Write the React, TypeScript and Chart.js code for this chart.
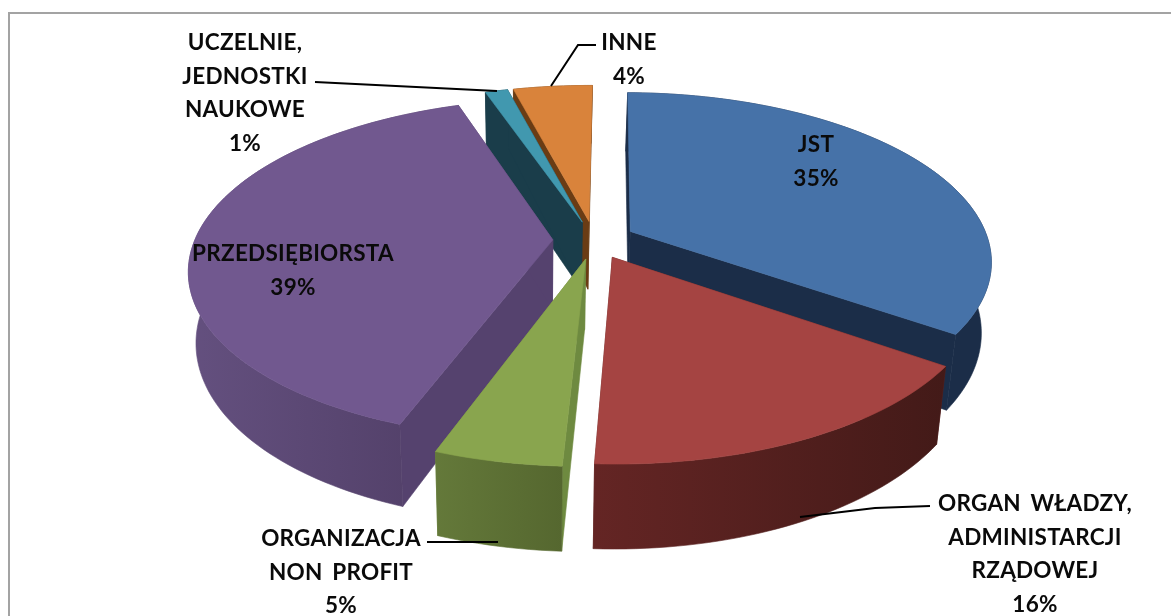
import React, { useEffect, useRef } from "react";
import { Chart, registerables } from "chart.js";

Chart.register(...registerables);

const categories = ["JST", "ORGAN WŁADZY,\nADMINISTARCJI\nRZĄDOWEJ", "ORGANIZACJA\nNON PROFIT", "PRZEDSIĘBIORSTA", "UCZELNIE,\nJEDNOSTKI\nNAUKOWE", "INNE"];
const shares = [34.6, 16.04, 4.75, 39.2, 1.2, 4.2];
const percentLabels = ["35%", "16%", "5%", "39%", "1%", "4%"];
const topColors = ["#4672a8", "#a54442", "#89a54e", "#71588f", "#4198af", "#d9833b"];
const wallColorsLeft = ["#1b2d48", "#642524", "#64793a", "#64507f", "#1a3d4a", "#6a3c14"];
const wallColorsRight = ["#1b2d48", "#431a18", "#55672f", "#503e66", "#1a3d4a", "#6a3c14"];
const edgeColors = ["#1b2d48", "#642524", "#6e8a40", "#55426e", "#1a3d4a", "#6a3c14"];

// Painter's order: back slices first
const paintOrder = [5, 4, 0, 3, 2, 1];

// View layout, in pixels and ratios
const VIEW = { cx: 594, cy: 240, rx: 358, ry: 165, persp: 0.17, depth: 69, explode: 0.115, taper: 0.022, vanishX: 536 };
const LABEL_LAYOUT: Record<number, { x: number; y: number }> = {
  0: { x: 816, y: 145 },
  1: { x: 1035, y: 504 },
  2: { x: 341, y: 539 },
  3: { x: 293, y: 254 },
  4: { x: 245, y: 43 },
  5: { x: 629, y: 43 },
};
const LINE_HEIGHT = 33.5;
const LEADERS: number[][][] = [
  [],
  [[930, 506], [875, 508], [800, 517]],
  [[427, 542], [498, 542]],
  [],
  [[315, 82], [497, 91]],
  [[596, 45], [578, 45], [551, 86]],
];

function project(nx: number, ny: number, z: number) {
  const s = 1 / (1 - VIEW.persp * ny);
  const x = VIEW.cx + nx * s * VIEW.rx;
  return {
    x: x - (x - VIEW.vanishX) * VIEW.taper * z,
    y: VIEW.cy + ny * s * VIEW.ry + z * VIEW.depth * s,
  };
}

const piePlugin = {
  id: "pie3d",
  beforeDatasetDraw(chart: any) {
    const { ctx } = chart;
    const arcs = chart.getDatasetMeta(0).data;
    const point = (a: any, angle: number, radius: number, z: number) => {
      const mid = (a.startAngle + a.endAngle) / 2;
      const ox = Math.cos(mid) * VIEW.explode + Math.cos(angle) * radius;
      const oy = Math.sin(mid) * VIEW.explode + Math.sin(angle) * radius;
      return project(ox, oy, z);
    };
    ctx.save();
    paintOrder.forEach((i) => {
      const a = arcs[i];
      const n = Math.max(8, Math.ceil((a.endAngle - a.startAngle) * 40));
      const rim: number[] = [];
      for (let k = 0; k <= n; k++) rim.push(a.startAngle + ((a.endAngle - a.startAngle) * k) / n);
      const poly = (pts: { x: number; y: number }[], fill: any) => {
        ctx.beginPath();
        pts.forEach((p, k) => (k ? ctx.lineTo(p.x, p.y) : ctx.moveTo(p.x, p.y)));
        ctx.closePath();
        ctx.fillStyle = fill;
        ctx.strokeStyle = fill;
        ctx.lineWidth = 0.6;
        ctx.fill();
        ctx.stroke();
      };
      const apexTop = point(a, a.startAngle, 0, 0);
      const apexBottom = point(a, a.startAngle, 0, 1);
      // radial walls
      [a.startAngle, a.endAngle].forEach((ang: number) => {
        poly([apexTop, point(a, ang, 1, 0), point(a, ang, 1, 1), apexBottom], edgeColors[i]);
      });
      // outer wall
      const tops = rim.map((ang) => point(a, ang, 1, 0));
      const bottoms = rim.map((ang) => point(a, ang, 1, 1));
      const xs = tops.map((p) => p.x);
      const grad = ctx.createLinearGradient(Math.min(...xs), 0, Math.max(...xs), 0);
      grad.addColorStop(0, wallColorsLeft[i]);
      grad.addColorStop(1, wallColorsRight[i]);
      poly([...tops, ...bottoms.slice().reverse()], grad);
      // top surface
      poly([apexTop, ...tops], chart.data.datasets[0].backgroundColor[i]);
    });
    ctx.restore();

    // leaders
    ctx.save();
    ctx.strokeStyle = "#000";
    ctx.lineWidth = 2;
    LEADERS.forEach((line) => {
      if (!line.length) return;
      ctx.beginPath();
      line.forEach(([x, y], k) => (k ? ctx.lineTo(x, y) : ctx.moveTo(x, y)));
      ctx.stroke();
    });
    // labels
    ctx.fillStyle = "#0a0a0a";
    ctx.font = 'bold 22.5px Lato, "Open Sans", sans-serif';
    ctx.letterSpacing = "0.25px";
    ctx.wordSpacing = "4px";
    ctx.textAlign = "center";
    ctx.textBaseline = "middle";
    categories.forEach((name, i) => {
      const lines = [...name.split("\n"), percentLabels[i]];
      lines.forEach((t, k) => ctx.fillText(t, LABEL_LAYOUT[i].x, LABEL_LAYOUT[i].y + k * LINE_HEIGHT));
    });
    ctx.restore();
    return false;
  },
};

export default function App() {
  const ref = useRef<HTMLCanvasElement>(null);
  useEffect(() => {
    document.body.style.margin = "0";
    const chart = new Chart(ref.current!, {
      type: "pie",
      data: {
        labels: categories,
        datasets: [{ data: shares, backgroundColor: topColors, borderWidth: 0 }],
      },
      options: {
        responsive: false,
        animation: false,
        rotation: 0.5,
        plugins: { legend: { display: false }, tooltip: { enabled: false }, title: { display: false } },
      },
      plugins: [piePlugin],
    });
    return () => chart.destroy();
  }, []);
  return (
    <div style={{ position: "relative", width: 1171, height: 616, background: "#fff", overflow: "hidden" }}>
      <div style={{ position: "absolute", left: 8, top: 12, width: 1400, height: 800, border: "2px solid #a3a3a3", boxSizing: "border-box" }} />
      <canvas ref={ref} width={1171} height={616} style={{ position: "absolute", left: 0, top: 0 }} />
    </div>
  );
}
